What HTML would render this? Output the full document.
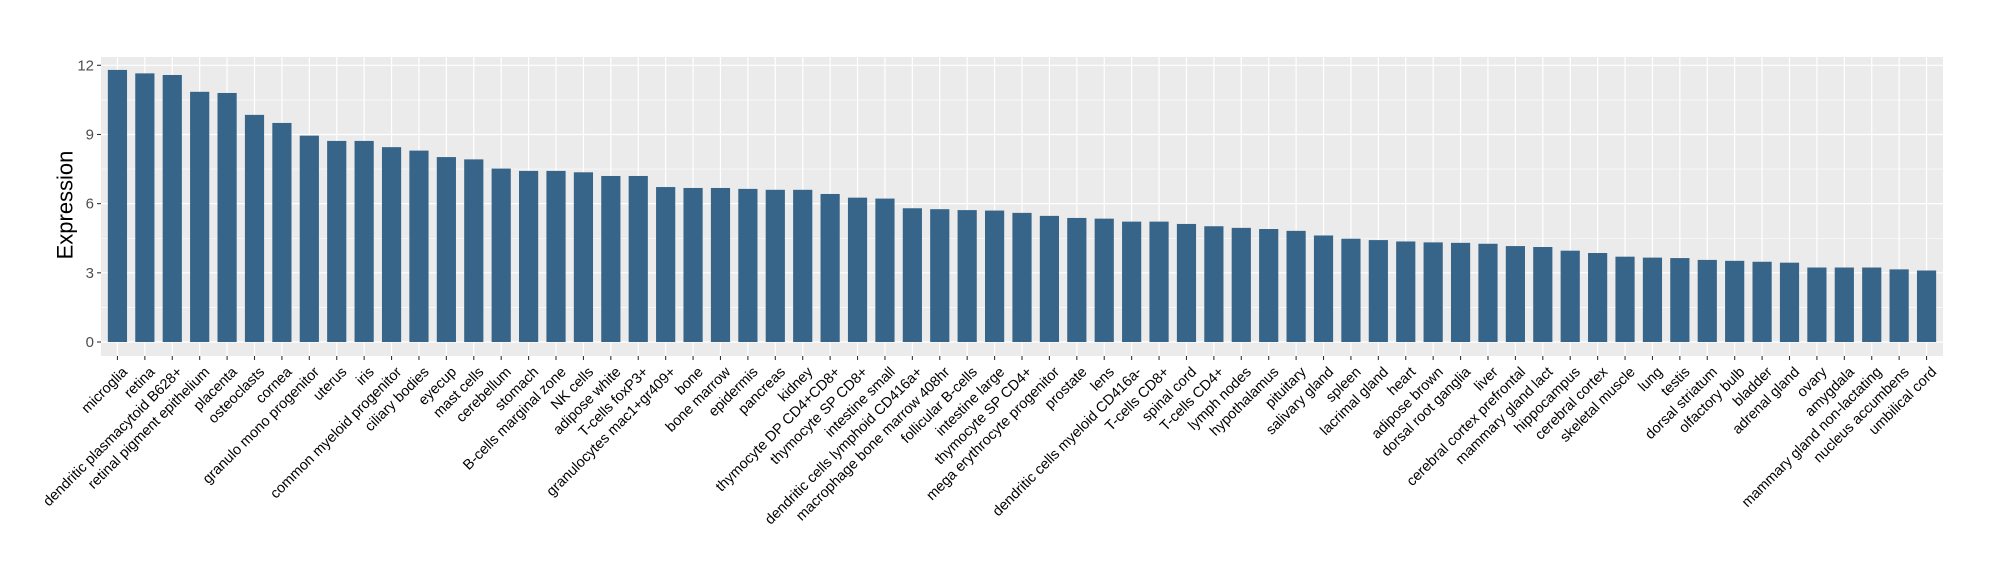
<!DOCTYPE html>
<html><head><meta charset="utf-8"><style>
html,body{margin:0;padding:0;background:#fff;}
svg{display:block;font-family:"Liberation Sans",Arial,sans-serif;}
</style></head><body>
<svg id="chart" width="2000" height="580" viewBox="0 0 2000 580">
<rect x="0" y="0" width="2000" height="580" fill="#fff"/>
<g id="panel"></g>
<g id="bars"></g>
<g id="yaxis"></g>
<g id="xaxis"></g>
<text x="65" y="205" font-size="22" text-anchor="middle" transform="rotate(-90 65 205)" dominant-baseline="central" fill="#000">Expression</text>
</svg>
<script>
const categories = ["microglia","retina","dendritic plasmacytoid B628+","retinal pigment epithelium","placenta","osteoclasts","cornea","granulo mono progenitor","uterus","iris","common myeloid progenitor","ciliary bodies","eyecup","mast cells","cerebellum","stomach","B-cells marginal zone","NK cells","adipose white","T-cells foxP3+","granulocytes mac1+gr409+","bone","bone marrow","epidermis","pancreas","kidney","thymocyte DP CD4+CD8+","thymocyte SP CD8+","intestine small","dendritic cells lymphoid CD416a+","macrophage bone marrow 408hr","follicular B-cells","intestine large","thymocyte SP CD4+","mega erythrocyte progenitor","prostate","lens","dendritic cells myeloid CD416a-","T-cells CD8+","spinal cord","T-cells CD4+","lymph nodes","hypothalamus","pituitary","salivary gland","spleen","lacrimal gland","heart","adipose brown","dorsal root ganglia","liver","cerebral cortex prefrontal","mammary gland  lact","hippocampus","cerebral cortex","skeletal muscle","lung","testis","dorsal striatum","olfactory bulb","bladder","adrenal gland","ovary","amygdala","mammary gland non-lactating","nucleus accumbens","umbilical cord"];
const values = [11.8,11.65,11.58,10.85,10.8,9.85,9.5,8.95,8.72,8.72,8.45,8.3,8.02,7.92,7.52,7.42,7.42,7.36,7.2,7.2,6.72,6.68,6.68,6.64,6.6,6.6,6.42,6.26,6.22,5.8,5.76,5.72,5.7,5.6,5.47,5.38,5.35,5.22,5.22,5.12,5.02,4.95,4.9,4.82,4.62,4.48,4.42,4.36,4.32,4.3,4.26,4.16,4.12,3.96,3.86,3.7,3.66,3.64,3.56,3.52,3.48,3.44,3.23,3.23,3.23,3.15,3.1];
const yTicks = [0,3,6,9,12];
const yMinor = [1.5,4.5,7.5,10.5];

const NS="http://www.w3.org/2000/svg";
const PL=101, PR=1943, PT=57, PB=356;
const y0px=342, y12px=65.3;
function yScale(v){return y0px-(v/12)*(y0px-y12px);}
const n=categories.length;
const band=(PR-PL)/(n-1+1.2);
function xScale(i){return PL+band*(0.6+i);}
function mk(tag,attrs,parent){const e=document.createElementNS(NS,tag);for(const k in attrs)e.setAttribute(k,attrs[k]);parent.appendChild(e);return e;}

const panel=document.getElementById('panel');
const bg=mk('rect',{x:PL,y:PT,width:PR-PL,height:PB-PT,fill:'#EBEBEB'},panel);


yMinor.forEach(v=>{
  const l=mk('line',{x1:PL,x2:PR,y1:yScale(v),y2:yScale(v),stroke:'#fff','stroke-width':0.6},panel);
  
  
});
yTicks.forEach(v=>{
  const l=mk('line',{x1:PL,x2:PR,y1:yScale(v),y2:yScale(v),stroke:'#fff','stroke-width':1.2},panel);
  
  
});
categories.forEach((c,i)=>{
  const l=mk('line',{x1:xScale(i),x2:xScale(i),y1:PT,y2:PB,stroke:'#fff','stroke-width':1.2},panel);
  
  
});

const bars=document.getElementById('bars');
const bw=band*0.7;
values.forEach((v,i)=>{
  const r=mk('rect',{x:xScale(i)-bw/2,y:yScale(v),width:bw,height:yScale(0)-yScale(v),fill:'#366589'},bars);
  
  
});

const ya=document.getElementById('yaxis');
yTicks.forEach(v=>{
  const t=mk('line',{x1:PL-4,x2:PL,y1:yScale(v),y2:yScale(v),stroke:'#333','stroke-width':1.1},ya);
  
  
  const tx=mk('text',{x:PL-7,y:yScale(v)+5,'font-size':15,'text-anchor':'end',fill:'#4D4D4D'},ya);
  tx.textContent=String(v);
  
  
});

const xa=document.getElementById('xaxis');
categories.forEach((c,i)=>{
  const x=xScale(i);
  const t=mk('line',{x1:x,x2:x,y1:PB,y2:PB+4,stroke:'#333','stroke-width':1.1},xa);
  
  
  const ty=PB+10;
  const tx=mk('text',{x:x+4,y:ty,'font-size':14.5,'text-anchor':'end','dominant-baseline':'hanging',fill:'#000',transform:'rotate(-45 '+(x+4)+' '+ty+')'},xa);
  tx.textContent=c;
  
  
});
</script>
</body></html>
